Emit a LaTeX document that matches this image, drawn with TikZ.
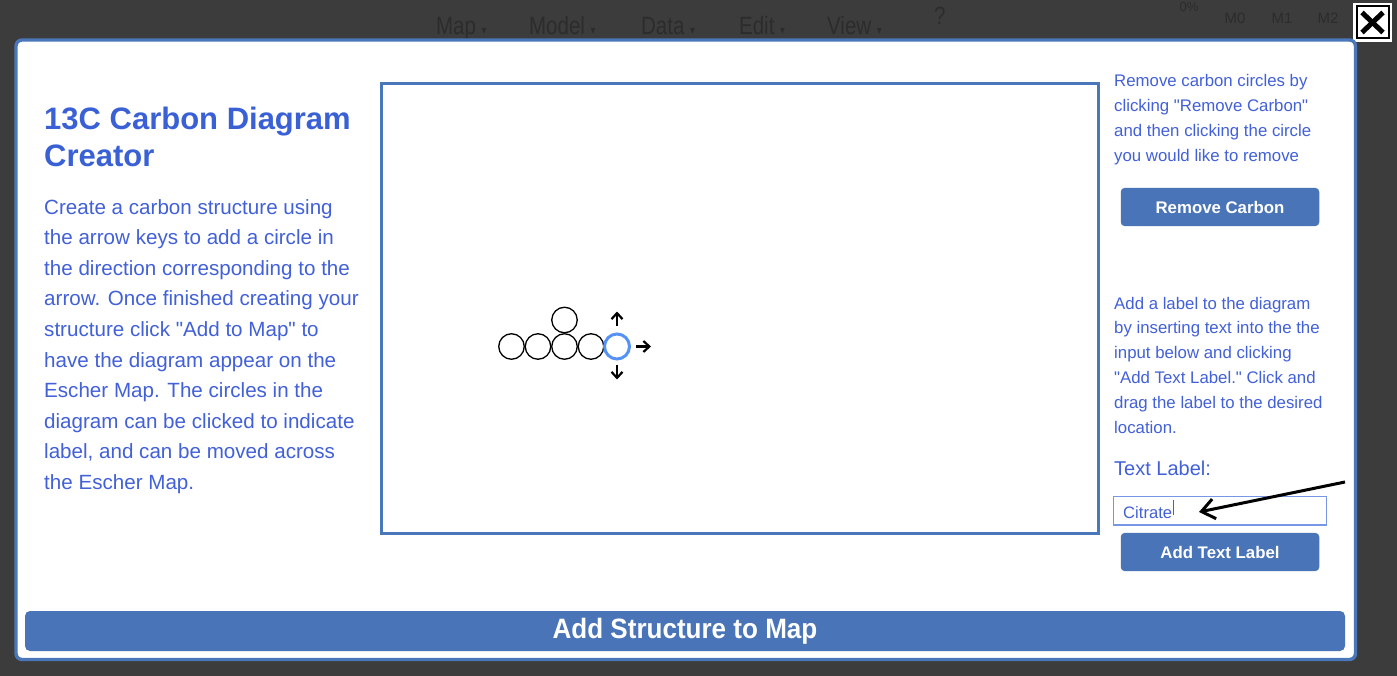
\documentclass[tikz,border=0pt]{standalone}
\usepackage{fontspec}
\setmainfont{Liberation Sans}
\newfontfamily\symfont{DejaVu Sans}
\usetikzlibrary{arrows.meta}
\definecolor{bggray}{RGB}{60,60,60}
\definecolor{menugray}{RGB}{44,44,44}
\definecolor{modalblue}{RGB}{74,118,186}
\definecolor{btnblue}{RGB}{73,116,183}
\definecolor{txtblue}{RGB}{66,96,216}
\definecolor{titleblue}{RGB}{58,96,214}
\definecolor{activeblue}{RGB}{86,146,246}
\definecolor{inputblue}{RGB}{120,150,230}
\begin{document}
\begin{tikzpicture}[x=1pt,y=-1pt,
  menu/.style={text=menugray,anchor=base west,inner sep=0pt,xscale=.82,font=\fontsize{25}{25}\selectfont},
  info/.style={text=txtblue,align=left,anchor=base west,inner sep=0pt},
  btn/.style={fill=btnblue,rounded corners=4pt,text=white,minimum width=198.5pt,minimum height=38.3pt,font=\bfseries\fontsize{16.8}{20}\selectfont},
  carbon/.style={circle,draw=black,line width=1.3pt,minimum size=25.5pt,inner sep=0pt},
  keyarrow/.style={-{Straight Barb[length=6pt,width=11pt]},line width=2.2pt}]
\useasboundingbox (0,0) rectangle (1397,676);
% page behind the window
\fill[bggray] (0,0) rectangle (1397,676);
\node[menu] (map) at (436,35) {Map {\symfont\fontsize{12}{12}\selectfont ▾}};
\node[menu] (model) at (529,35) {Model {\symfont\fontsize{12}{12}\selectfont ▾}};
\node[menu] (data) at (641,35) {Data {\symfont\fontsize{12}{12}\selectfont ▾}};
\node[menu] (edit) at (739,35) {Edit {\symfont\fontsize{12}{12}\selectfont ▾}};
\node[menu] (view) at (827,35) {View {\symfont\fontsize{12}{12}\selectfont ▾}};
\node[menu] (help) at (934,25) {?};
\node[text=menugray,font=\fontsize{13}{13}\selectfont] (zero) at (1189,7) {0\%};
\node[text=menugray,font=\fontsize{15}{15}\selectfont] (m0) at (1235,18) {M0};
\node[text=menugray,font=\fontsize{15}{15}\selectfont] (m1) at (1282,18) {M1};
\node[text=menugray,font=\fontsize{15}{15}\selectfont] (m2) at (1328,18) {M2};
% close box
\node[draw=white,line width=1.5pt,fill=white,minimum size=37pt,inner sep=0pt] (close) at (1372.5,22.5) {};
\node[draw=black,line width=2pt,minimum size=32pt,inner sep=0pt] (closein) at (1372.5,22.5) {};
\draw[line width=5pt] ([shift={(-10.5,10)}]closein.center) -- ([shift={(10.5,-10)}]closein.center);
\draw[line width=5pt] ([shift={(-10.5,-10)}]closein.center) -- ([shift={(10.5,10)}]closein.center);
% the window
\node[draw=modalblue,fill=white,line width=3.4pt,rounded corners=6pt,minimum width=1339.5pt,minimum height=619.5pt,inner sep=0pt] (modal) at (685.75,349.75) {};
% multi-line nodes sit on their last line
\node[text=titleblue,align=left,anchor=base west,inner sep=0pt,font=\bfseries\fontsize{31}{37}\selectfont] (title) at (44,167) {13C Carbon Diagram\\Creator};
\node[info,font=\fontsize{20.6}{30.6}\selectfont] (intro) at (44,489.4) {Create a carbon structure using\\the arrow keys to add a circle in\\the direction corresponding to the\\arrow. Once finished creating your\\structure click \textquotedbl Add to Map\textquotedbl\ to\\have the diagram appear on the\\Escher Map. The circles in the\\diagram can be clicked to indicate\\label, and can be moved across\\the Escher Map.};
% drawing area
\node[draw=modalblue,line width=3pt,minimum width=717.5pt,minimum height=449pt,inner sep=0pt] (canvas) at (739.75,308.5) {};
\node[carbon] (c1) at (511.5,346.5) {};
\node[carbon] (c2) at (538,346.5) {};
\node[carbon] (c3) at (564.5,346.5) {};
\node[carbon] (c4) at (591,346.5) {};
\node[carbon] (ctop) at (564.5,320) {};
\node[circle,draw=activeblue,line width=3pt,minimum size=25pt,inner sep=0pt] (cnew) at (617,346.5) {};
\draw[keyarrow] ([yshift=7pt]cnew.north) -- ++(0,-14);
\draw[keyarrow] ([xshift=5pt]cnew.east) -- ++(15,0);
\draw[keyarrow] ([yshift=-4pt]cnew.south) -- ++(0,15);
% right column
\node[info,font=\fontsize{16.8}{24.8}\selectfont] (removehint) at (1114,161.4) {Remove carbon circles by\\clicking \textquotedbl Remove Carbon\textquotedbl\\and then clicking the circle\\you would like to remove};
\node[btn] (removebtn) at (1220,207) {Remove Carbon};
\node[info,font=\fontsize{16.8}{24.8}\selectfont] (labelhint) at (1114,433) {Add a label to the diagram\\by inserting text into the the\\input below and clicking\\\textquotedbl Add Text Label.\textquotedbl\ Click and\\drag the label to the desired\\location.};
\node[info,font=\fontsize{20}{24}\selectfont] (labelcap) at (1114,475) {Text Label:};
\node[draw=inputblue,line width=1.5pt,minimum width=213pt,minimum height=28.5pt,inner sep=0pt] (input) at (1220,510.5) {};
\node[info,font=\fontsize{16.6}{20}\selectfont] (citrate) at (1123,518) {Citrate};
\draw[txtblue,line width=1pt] ([xshift=1.5pt,yshift=3.5pt]citrate.south east) -- ++(0,-15);
\coordinate (tail) at (1345,482);
\coordinate (tip) at (1199,512);
\draw[-{Straight Barb[length=13pt,width=20pt]},line width=3pt] (tail) -- (tip);
\node[btn] (addlabel) at (1220,552) {Add Text Label};
% bottom bar
\node[btn,minimum width=1320pt,minimum height=40pt,rounded corners=5pt,font=\bfseries\fontsize{28}{30}\selectfont] (addmap) at (685,631) {\scalebox{.93}[1]{Add Structure to Map}};
\end{tikzpicture}
\end{document}
